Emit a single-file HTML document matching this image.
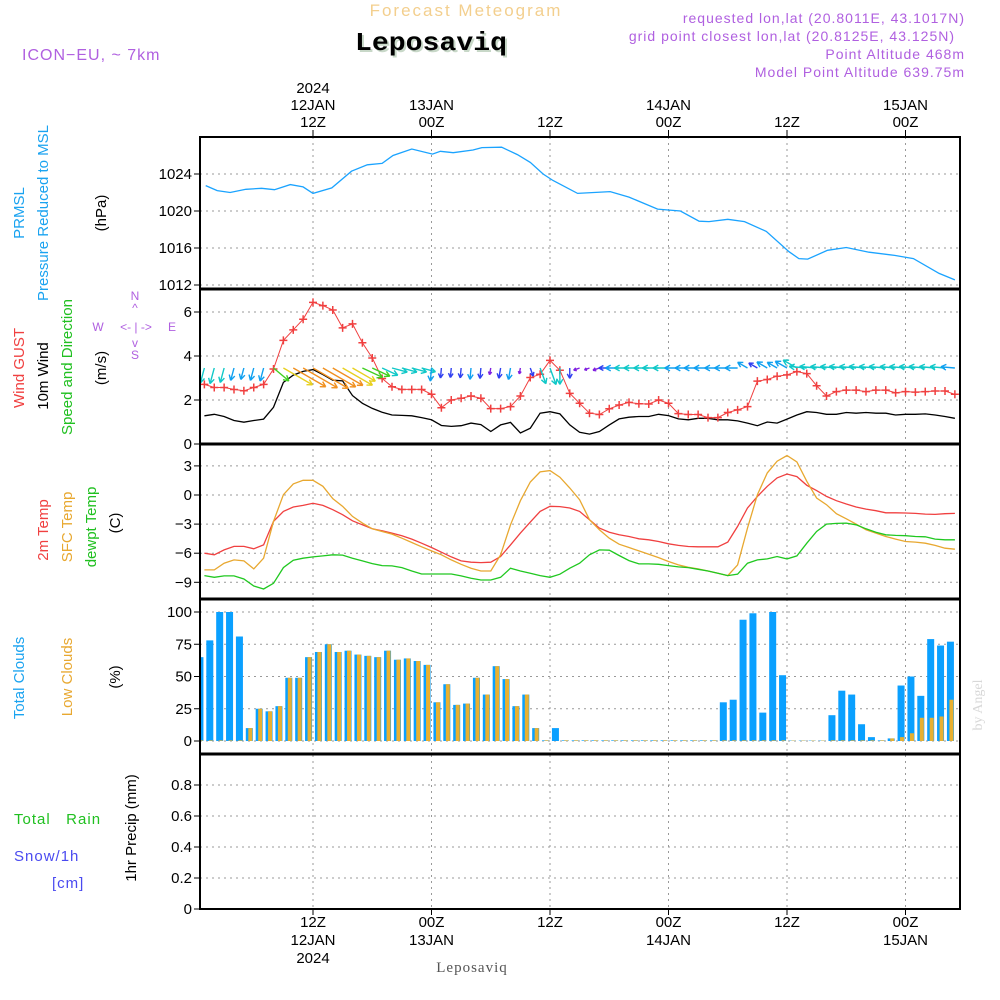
<!DOCTYPE html>
<html><head><meta charset="utf-8"><style>
html,body{margin:0;padding:0;background:#fff}
svg{display:block}
text{font-family:"Liberation Sans",sans-serif}
</style></head><body>
<svg id="chart" width="1000" height="1000" viewBox="0 0 1000 1000" xmlns="http://www.w3.org/2000/svg">
<g>
<text x="466" y="16" text-anchor="middle" font-size="17" fill="#f3cf8e" letter-spacing="2">Forecast Meteogram</text>
<text x="355" y="50" style="font-family:'Liberation Mono',monospace" font-weight="bold" font-size="26" fill="#c8d8c8" textLength="152" lengthAdjust="spacingAndGlyphs" transform="translate(2,2)">Leposaviq</text>
<text x="355" y="50" style="font-family:'Liberation Mono',monospace" font-weight="bold" font-size="26" fill="#000" textLength="152" lengthAdjust="spacingAndGlyphs">Leposaviq</text>
<text x="22" y="60" font-size="16" fill="#b060e0" letter-spacing="1">ICON−EU, ~ 7km</text>
<text x="965" y="23" text-anchor="end" font-size="14" fill="#b060e0" letter-spacing="1">requested lon,lat (20.8011E, 43.1017N)</text>
<text x="955" y="41" text-anchor="end" font-size="14" fill="#b060e0" letter-spacing="1">grid point closest lon,lat (20.8125E, 43.125N)</text>
<text x="965" y="59" text-anchor="end" font-size="14" fill="#b060e0" letter-spacing="1">Point Altitude 468m</text>
<text x="965" y="77" text-anchor="end" font-size="14" fill="#b060e0" letter-spacing="1">Model Point Altitude 639.75m</text>
</g>
<g font-size="15">
<text transform="translate(24,213) rotate(-90)" text-anchor="middle" fill="#1aa3f0">PRMSL</text>
<text transform="translate(48,213) rotate(-90)" text-anchor="middle" fill="#1aa3f0">Pressure Reduced to MSL</text>
<text transform="translate(106,213) rotate(-90)" text-anchor="middle" fill="#000">(hPa)</text>
<text transform="translate(24,368) rotate(-90)" text-anchor="middle" fill="#f04040">Wind GUST</text>
<text transform="translate(48,376) rotate(-90)" text-anchor="middle" fill="#000">10m Wind</text>
<text transform="translate(72,367) rotate(-90)" text-anchor="middle" fill="#20c020">Speed and Direction</text>
<text transform="translate(106,368) rotate(-90)" text-anchor="middle" fill="#000">(m/s)</text>
<g font-size="12" fill="#b060e0" text-anchor="middle">
<text x="135" y="300">N</text><text x="135" y="312">^</text>
<text x="98" y="331">W</text><text x="136" y="331">&lt;- | -&gt;</text><text x="172" y="331">E</text>
<text x="135" y="347">v</text><text x="135" y="359">S</text>
</g>
<text transform="translate(48,530) rotate(-90)" text-anchor="middle" fill="#f04040">2m Temp</text>
<text transform="translate(72,527) rotate(-90)" text-anchor="middle" fill="#e8a830">SFC Temp</text>
<text transform="translate(96,527) rotate(-90)" text-anchor="middle" fill="#20c020">dewpt Temp</text>
<text transform="translate(120,523) rotate(-90)" text-anchor="middle" fill="#000">(C)</text>
<text transform="translate(24,678) rotate(-90)" text-anchor="middle" fill="#1aa3f0">Total Clouds</text>
<text transform="translate(72,677) rotate(-90)" text-anchor="middle" fill="#e8a830">Low Clouds</text>
<text transform="translate(120,677) rotate(-90)" text-anchor="middle" fill="#000">(%)</text>
<text transform="translate(136,828) rotate(-90)" text-anchor="middle" fill="#000">1hr Precip (mm)</text>
<text x="14" y="824" fill="#20c020" letter-spacing="1">Total&#160;&#160;&#160;Rain</text>
<text x="14" y="861" fill="#4a4af0" letter-spacing="1">Snow/1h</text>
<text x="52" y="888" fill="#4a4af0" letter-spacing="1">[cm]</text>
</g>
<text transform="translate(982,705) rotate(-90)" text-anchor="middle" style="font-family:'Liberation Serif',serif" font-size="14" fill="#d8d8d8">by Angel</text>
<text x="472" y="972" text-anchor="middle" style="font-family:'Liberation Serif',serif" font-size="15" fill="#555" letter-spacing="1">Leposaviq</text>
<g id="plot"></g>
</svg>
<script>
const pHours=[1.13,2.3,3.6,5.2,6.8,8.1,9.7,11,12,13.9,15.9,17.5,19,20.1,22,24.1,24.9,26.2,28.2,29.1,31.1,32.7,34,35.3,36.3,38.8,42.1,44,46.9,49.2,51.1,52.1,54,55.7,57.9,60.2,61.2,62.1,64.1,66,68.3,70.9,72.8,75.4,77];
const pressure=[1022.75,1022.2,1022.0,1022.35,1022.45,1022.3,1022.85,1022.6,1021.9,1022.5,1024.3,1025,1025.15,1026,1026.7,1026.15,1026.45,1026.3,1026.6,1026.85,1026.9,1026.1,1025.25,1024,1023.3,1021.9,1022.1,1021.5,1020.2,1020,1018.9,1018.85,1019.1,1018.85,1017.8,1015.6,1014.85,1014.8,1015.75,1016.05,1015.55,1015.2,1014.85,1013.25,1012.55];
const gust=[2.71,2.57,2.57,2.48,2.42,2.57,2.71,3.41,4.71,5.19,5.67,6.44,6.29,6.09,5.28,5.46,4.6,3.91,2.98,2.6,2.48,2.48,2.48,2.26,1.65,2.0,2.08,2.18,2.08,1.61,1.61,1.7,2.18,3.02,3.17,3.8,3.35,2.3,1.85,1.4,1.34,1.6,1.77,1.89,1.83,1.82,2.0,1.85,1.38,1.34,1.34,1.2,1.2,1.43,1.55,1.7,2.86,2.93,3.08,3.14,3.29,3.2,2.65,2.18,2.38,2.45,2.45,2.38,2.45,2.45,2.33,2.38,2.36,2.38,2.41,2.41,2.26];
const wind=[1.28,1.35,1.25,1.07,0.99,1.07,1.13,1.67,2.8,3.13,3.3,3.38,3.16,2.9,2.87,2.2,1.85,1.62,1.44,1.32,1.3,1.28,1.2,1.1,0.84,0.8,0.83,0.95,0.88,0.57,0.87,0.98,0.5,0.72,1.4,1.47,1.37,0.87,0.53,0.45,0.57,0.87,1.14,1.22,1.25,1.25,1.35,1.29,1.14,1.1,1.17,1.17,1.1,1.1,1.05,0.95,0.83,1.0,0.95,1.13,1.32,1.47,1.43,1.35,1.35,1.43,1.4,1.43,1.4,1.4,1.32,1.35,1.35,1.37,1.32,1.25,1.17];
const windDir=[105,105,105,105,105,105,105,40,30,30,30,30,30,30,30,30,25,25,25,15,15,15,15,95,95,95,95,95,95,100,100,100,100,70,70,70,90,90,160,160,160,180,180,180,180,180,180,180,180,180,180,180,180,180,180,210,210,210,210,210,210,185,185,185,185,185,185,185,185,185,185,185,185,185,185,185,185];
const temp2m=[-6.0,-6.17,-5.66,-5.3,-5.3,-5.55,-5.14,-2.72,-1.69,-1.24,-1.07,-0.86,-1.07,-1.52,-2.03,-2.66,-3.07,-3.48,-3.69,-3.93,-4.2,-4.55,-4.97,-5.41,-5.9,-6.38,-6.79,-6.93,-6.97,-6.93,-6.34,-5.14,-3.93,-2.79,-1.69,-1.17,-1.2,-1.34,-1.69,-2.55,-3.41,-3.83,-4.1,-4.28,-4.52,-4.62,-4.79,-5.03,-5.2,-5.31,-5.34,-5.34,-5.34,-4.86,-3.24,-1.34,-0.14,0.9,1.76,2.17,1.9,1.0,0.45,-0.14,-0.59,-0.93,-1.24,-1.45,-1.62,-1.83,-1.83,-1.86,-1.9,-1.97,-2.0,-1.93,-1.9];
const sfcTemp=[-7.72,-7.72,-7.03,-6.69,-6.79,-7.62,-6.52,-2.72,0.03,1.14,1.52,1.52,0.9,-0.38,-1.17,-2.21,-2.9,-3.48,-3.76,-4.03,-4.45,-4.9,-5.34,-5.76,-6.17,-6.69,-7.14,-7.55,-7.83,-7.83,-6.17,-3.07,-0.59,1.34,2.38,2.52,1.83,0.72,-0.48,-2.55,-3.59,-4.45,-5.07,-5.41,-5.76,-6.1,-6.45,-6.86,-7.21,-7.45,-7.62,-7.83,-8.07,-8.31,-7.21,-3.41,0.03,2.28,3.48,4.07,3.41,1.41,-0.31,-1.0,-1.93,-2.45,-3.0,-3.59,-3.93,-4.28,-4.55,-4.79,-4.86,-4.97,-5.2,-5.48,-5.59];
const dewpt=[-8.31,-8.48,-8.34,-8.34,-8.66,-9.38,-9.69,-9.1,-7.48,-6.72,-6.52,-6.38,-6.28,-6.17,-6.2,-6.52,-6.79,-7.07,-7.28,-7.31,-7.48,-7.83,-8.14,-8.14,-8.14,-8.14,-8.34,-8.59,-8.76,-8.76,-8.48,-7.55,-7.83,-8.07,-8.31,-8.48,-8.17,-7.55,-7.03,-6.17,-5.66,-5.69,-6.24,-6.76,-7.1,-7.1,-7.14,-7.28,-7.41,-7.48,-7.66,-7.83,-8.07,-8.31,-8.17,-7.03,-6.69,-6.59,-6.34,-6.59,-6.28,-4.97,-3.76,-3.0,-2.93,-2.9,-3.07,-3.48,-3.83,-4.1,-4.17,-4.2,-4.28,-4.31,-4.55,-4.62,-4.62];
const totalClouds=[65,78,100,100,81,10,25,23,27,49,49,65,69,75,69,70,67,66,65,70,63,64,62,59,30,44,28,29,49,36,58,48,27,36,10,0.5,10,0.5,0.5,0.5,0.5,0.5,0.5,0.5,0.5,0.5,0.5,0.5,0.5,0.5,0.5,0.5,0.5,30,32,94,99,22,100,51,0.3,0.3,0.3,0.3,20,39,36,13,3,0.5,2,43,50,35,79,74,77];
const lowClouds=[0.5,0.5,0.5,0.5,0.5,10,25,23,27,49,49,65,69,75,69,70,67,66,65,70,63,64,62,59,30,44,28,29,49,36,58,48,27,36,10,0.5,0,0.5,0.5,0.5,0.5,0.5,0.5,0.5,0.5,0.5,0.5,0.5,0.5,0.5,0.5,0.5,0.5,0.5,0.5,0.5,0.5,0.5,0.5,0.5,0.3,0.3,0.3,0.3,0.5,0.5,0.5,0.5,0.5,0.5,2,3,6,18,18,19,32];
const precip=[0,0,0,0,0,0,0,0,0,0,0,0,0,0,0,0,0,0,0,0,0,0,0,0,0,0,0,0,0,0,0,0,0,0,0,0,0,0,0,0,0,0,0,0,0,0,0,0,0,0,0,0,0,0,0,0,0,0,0,0,0,0,0,0,0,0,0,0,0,0,0,0,0,0,0,0,0];
const pTicks=[1012,1016,1020,1024];
const wTicks=[0,2,4,6];
const tTicks=[-9,-6,-3,0,3];
const cTicks=[0,25,50,75,100];
const rTicks=[0,0.2,0.4,0.6,0.8];
const timeTicks=[12,24,36,48,60,72];
const topLabels=[["2024","12JAN","12Z"],["","13JAN","00Z"],["","","12Z"],["","14JAN","00Z"],["","","12Z"],["","15JAN","00Z"]];
const botLabels=[["12Z","12JAN","2024"],["00Z","13JAN",""],["12Z","",""],["00Z","14JAN",""],["12Z","",""],["00Z","15JAN",""]];

const X0=200,X1=960;
const xh=h=>313+(h-12)*9.875;
const yP=p=>174-(p-1024)*9.25;
const yW=v=>444-v*22;
const yT=t=>495-t*9.7;
const yC=c=>741-c*1.29;
const yR=r=>909-r*155;
const panels=[[137,289,'pressure'],[289,444,'wind'],[444,599,'temperature'],[599,754,'clouds'],[754,909,'precip']];
const NS='http://www.w3.org/2000/svg';
const plot=document.getElementById('plot');
function mk(tag,attrs,parent){const e=document.createElementNS(NS,tag);for(const k in attrs)e.setAttribute(k,attrs[k]);(parent||plot).appendChild(e);return e;}
const clip=mk('clipPath',{id:'pc'});mk('rect',{x:X0,y:137,width:X1-X0,height:772},clip);

const grid=mk('g',{});


timeTicks.forEach(h=>{const l=mk('line',{x1:xh(h),x2:xh(h),y1:137,y2:909,stroke:'#999','stroke-dasharray':'2,4'},grid);

});
function hgrid(ticks,fy,fmt,name){ticks.forEach(t=>{const y=fy(t);
const l=mk('line',{x1:X0,x2:X1,y1:y,y2:y,stroke:'#999','stroke-dasharray':'2,4'},grid);


mk('line',{x1:X0-6,x2:X0,y1:y,y2:y,stroke:'#000'},grid);
const tx=mk('text',{x:X0-8,y:y+5,'text-anchor':'end','font-size':15,fill:'#000'},grid);tx.textContent=fmt(t);

});}
hgrid(pTicks,yP,t=>t,'pressure');
hgrid(wTicks,yW,t=>t,'wind');
hgrid(tTicks,yT,t=>t<0?'−'+(-t):t,'temp');
hgrid(cTicks,yC,t=>t,'cloud');
hgrid(rTicks,yR,t=>t===0?'0':t.toFixed(1),'precip');
timeTicks.forEach((h,i)=>{const x=xh(h);
topLabels[i].forEach((s,j)=>{if(!s)return;const t=mk('text',{x:x,y:93+j*17,'text-anchor':'middle','font-size':15},grid);t.textContent=s;

});
botLabels[i].forEach((s,j)=>{if(!s)return;const t=mk('text',{x:x,y:927+j*18,'text-anchor':'middle','font-size':15},grid);t.textContent=s;

});
mk('line',{x1:x,x2:x,y1:130,y2:137,stroke:'#000'},grid);mk('line',{x1:x,x2:x,y1:909,y2:915,stroke:'#000'},grid);});

const data=mk('g',{'clip-path':'url(#pc)'});


function line(hs,vals,fy,color,name,w){const d=vals.map((v,i)=>(i?'L':'M')+xh(hs[i]).toFixed(1)+','+fy(v).toFixed(1)).join('');
const p=mk('path',{d:d,fill:'none',stroke:color,'stroke-width':w||1.3},data);

return p;}
const hourly=gust.map((_,i)=>i+1);
line(pHours,pressure,yP,'#1aa3ff','pressure-line');
totalClouds.forEach((c,i)=>{const x=xh(i+0.55);
const b=mk('rect',{x:x-3.5,y:yC(c),width:7,height:yC(0)-yC(c),fill:'#0aa0ff'},data);


const lc=lowClouds[i];
const b2=mk('rect',{x:x-1,y:yC(lc),width:4,height:yC(0)-yC(lc),fill:'#e8b030'},data);

});
line(hourly,wind,yW,'#000','wind-speed-line',1.3);
line(hourly,gust,yW,'#f04040','gust-line',1);
gust.forEach((g,i)=>{const x=xh(i+1),y=yW(g);
const c=mk('path',{d:`M${x-4},${y}h8M${x},${y-4}v8`,stroke:'#f04040','stroke-width':1.5},data);

});
function wcol(v){return v<0.6?'#8020e0':v<0.9?'#3040f0':v<1.2?'#10a0f0':v<1.6?'#10c8c8':v<2.0?'#40d020':v<2.9?'#e8d020':'#f09020';}
wind.forEach((v,i)=>{const x=xh(i+1),y=368,L=12*v,a=windDir[i]*Math.PI/180;
const ex=x+L*Math.cos(a),ey=y+L*Math.sin(a);
const h1=a+Math.PI-0.5,h2=a+Math.PI+0.5,hl=Math.min(6,L*0.5);
const ar=mk('path',{d:`M${x},${y}L${ex},${ey}M${ex},${ey}L${ex+hl*Math.cos(h1)},${ey+hl*Math.sin(h1)}M${ex},${ey}L${ex+hl*Math.cos(h2)},${ey+hl*Math.sin(h2)}`,stroke:wcol(v),'stroke-width':1.4,fill:'none'},data);

});
line(hourly,temp2m,yT,'#f04040','temp-2m-line');
line(hourly,sfcTemp,yT,'#e8a830','sfc-temp-line');
line(hourly,dewpt,yT,'#20c820','dewpoint-line');
const pl=line(hourly,precip,yR,'#000','precip-line',1.5);pl.setAttribute('stroke-dasharray','5,3');

panels.forEach(p=>{const r=mk('rect',{x:X0,y:p[0],width:X1-X0,height:p[1]-p[0],fill:'none',stroke:'#000','stroke-width':2});

});
[289,444,599,754].forEach(y=>mk('line',{x1:X0,x2:X1,y1:y,y2:y,stroke:'#000','stroke-width':3}));
</script>
</body></html>
